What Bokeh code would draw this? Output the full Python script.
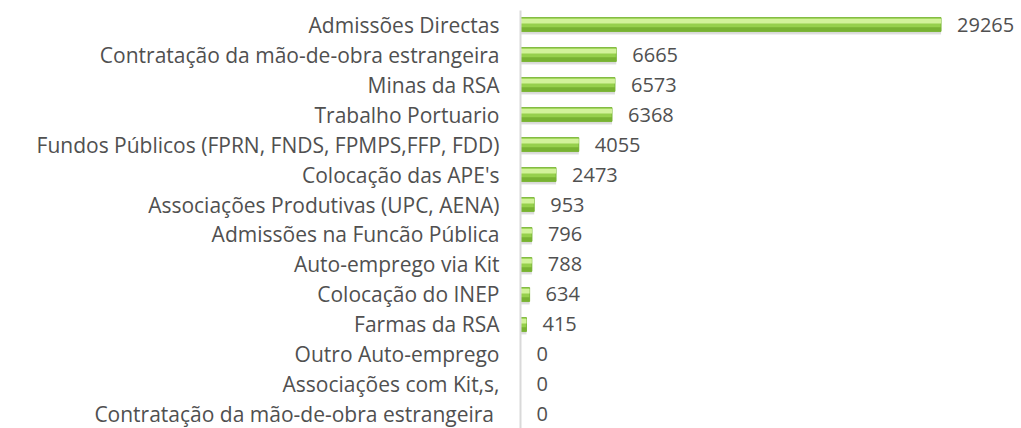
from bokeh.plotting import figure
from bokeh.models import ColumnDataSource, Range1d, FixedTicker
from bokeh.embed import file_html
from bokeh.resources import INLINE
from bokeh.core.properties import value

categories = [
    "Admissões Directas",
    "Contratação da mão-de-obra estrangeira",
    "Minas da RSA",
    "Trabalho Portuario",
    "Fundos Públicos (FPRN, FNDS, FPMPS,FFP, FDD)",
    "Colocação das APE's",
    "Associações Produtivas (UPC, AENA)",
    "Admissões na Funcão Pública",
    "Auto-emprego via Kit",
    "Colocação do INEP",
    "Farmas da RSA",
    "Outro Auto-emprego",
    "Associações com Kit,s,",
    "Contratação da mão-de-obra estrangeira ",
]
values = [29265, 6665, 6573, 6368, 4055, 2473, 953, 796, 788, 634, 415, 0, 0, 0]

idx = list(range(len(categories)))
src = ColumnDataSource(dict(
    y=idx,
    v=values,
    lab=[str(v) for v in values],
    y_sh=[i + 0.09 for i in idx],
    y_hi=[i - 0.11 for i in idx],
    y_lo=[i + 0.16 for i in idx],
))

px_per_unit = 0.01437
left_border = 520
W, H = 1021, 428
frame_w = W - left_border
p = figure(width=W, height=H, output_backend="svg", toolbar_location=None,
           x_range=Range1d(0, frame_w / px_per_unit),
           y_range=Range1d(start=13.467, end=-0.467),
           min_border_left=left_border, min_border_right=0,
           min_border_top=10, min_border_bottom=0)
p.outline_line_color = None
p.xgrid.visible = False
p.ygrid.visible = False
p.xaxis.visible = False
p.background_fill_color = "white"

ya = p.yaxis[0]
ya.ticker = FixedTicker(ticks=idx)
ya.major_label_overrides = {i: c for i, c in zip(idx, categories)}
ya.axis_line_color = "#d9d9d9"
ya.axis_line_width = 2
ya.major_tick_line_color = None
ya.minor_tick_line_color = None
ya.major_label_standoff = 15
ya.major_label_text_font = "Open Sans"
ya.major_label_text_font_size = "21px"
ya.major_label_text_color = "#505050"

# shadow
p.hbar(y="y_sh", right="v", left=0, height=0.52, source=src,
       fill_color="#9a9a9a", fill_alpha=0.15, line_color=None)
p.hbar(y="y_sh", right="v", left=0, height=0.44, source=src,
       fill_color="#8a8a8a", fill_alpha=0.22, line_color=None)
# body
p.hbar(y="y", right="v", left=0, height=0.46, source=src,
       fill_color="#96d04c", line_color="#7cb83a", line_width=1)
# highlight band
p.hbar(y="y_hi", right="v", left=0, height=0.16, source=src,
       fill_color="#d2f29a", line_color=None)
# lower darker band
p.hbar(y="y_lo", right="v", left=0, height=0.14, source=src,
       fill_color="#78b232", line_color=None)

p.text(x="v", y="y", text="lab", source=src, x_offset=16,
       text_font=value("Open Sans"), text_font_size="20px", text_color="#505050",
       text_baseline="middle", text_align="left")

open("out.html", "w").write(file_html(p, INLINE))
